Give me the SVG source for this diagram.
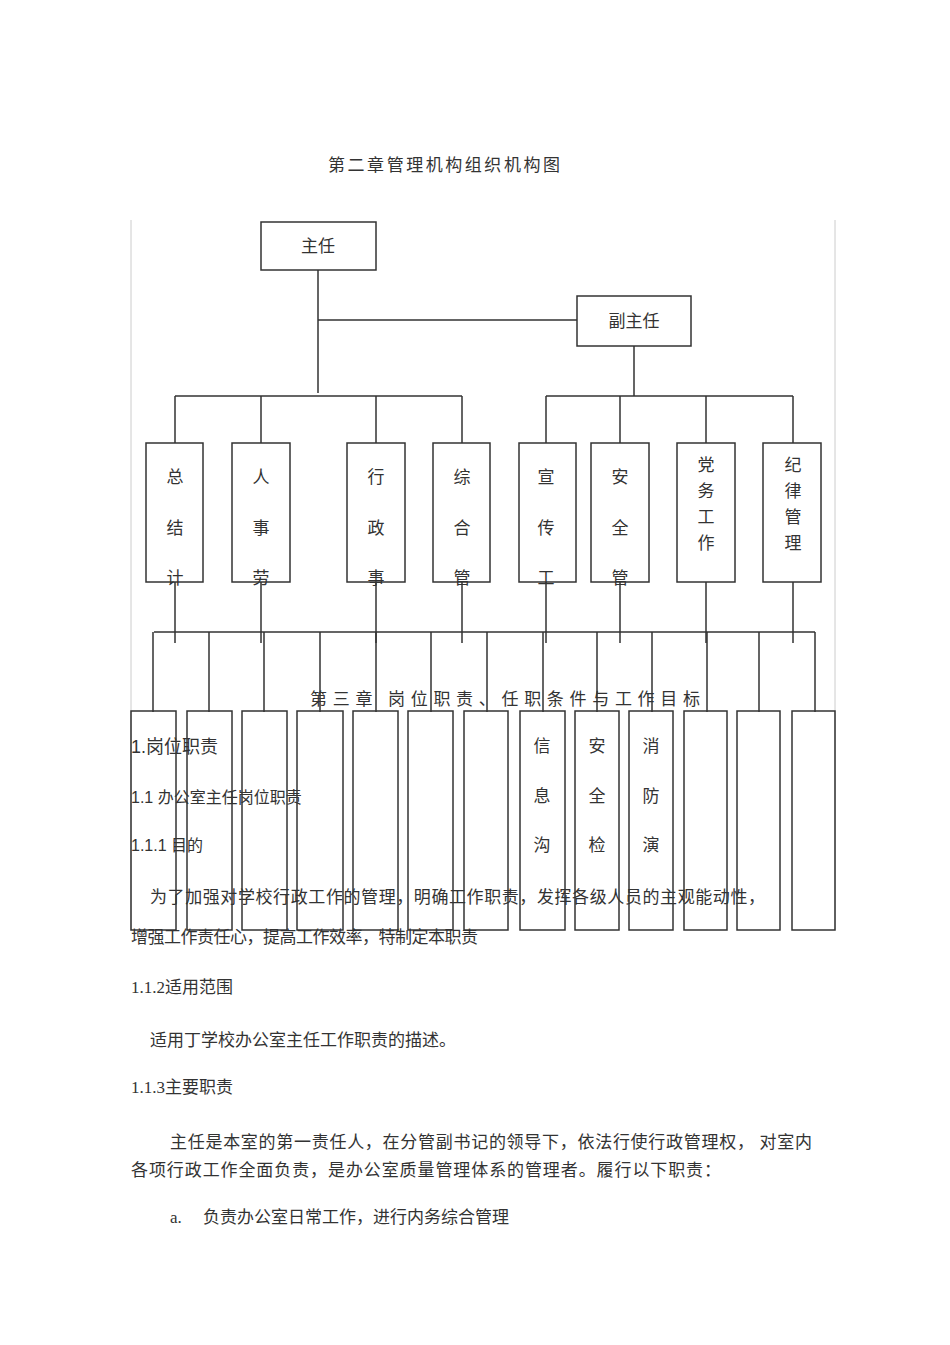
<svg xmlns="http://www.w3.org/2000/svg" width="950" height="1345" viewBox="0 0 950 1345">
<style>
.b{fill:#fff;stroke:#333;stroke-width:1.5}
.c{stroke:#333;stroke-width:1.5;fill:none}
.t{font-family:"Liberation Serif","Noto Sans CJK SC",serif;fill:#333;font-size:17px}
.m{text-anchor:middle}
.s{font-family:"Liberation Sans","Noto Sans CJK SC",sans-serif;fill:#333}
</style>
<rect width="950" height="1345" fill="#fff"/>
<text class="t" x="328" y="171" font-size="19" textLength="232">第二章管理机构组织机构图</text>
<g id="frame" stroke="#ccc" stroke-width="1"><line x1="131" y1="220" x2="131" y2="930"/><line x1="835" y1="220" x2="835" y2="930"/></g>
<g id="connectors" class="c">
<path d="M318 270V393M318 320H577M634 346V396M175 396H462M175 396V443M261 396V443M376 396V443M462 396V443M546 396H793M546 396V443M620 396V443M706 396V443M793 396V443"/>
<path d="M154 632H815M175 568V643M261 568V643M376 568V643M462 568V643M546 568V643M620 568V643M706 568V643M793 568V643"/>
<path d="M153 632V712M209 632V712M264 632V712M320 632V712M376 632V712M431 632V712M487 632V712M543 632V712M597 632V712M652 632V712M707 632V712M759 632V712M815 632V712"/>
</g>
<g id="n-zhuren"><rect class="b" x="261" y="222" width="115" height="48"/><text class="t m" x="318" y="252">主任</text></g>
<g id="n-fuzhuren"><rect class="b" x="577" y="296" width="114" height="50"/><text class="t m" x="634" y="327">副主任</text></g>
<g id="top-boxes">
<g id="n1"><rect class="b" x="146" y="443" width="57" height="139"/><text class="t m" x="175" y="483">总</text><text class="t m" x="175" y="534">结</text><text class="t m" x="175" y="584">计</text></g>
<g id="n2"><rect class="b" x="232" y="443" width="58" height="139"/><text class="t m" x="261" y="483">人</text><text class="t m" x="261" y="534">事</text><text class="t m" x="261" y="584">劳</text></g>
<g id="n3"><rect class="b" x="347" y="443" width="58" height="139"/><text class="t m" x="376" y="483">行</text><text class="t m" x="376" y="534">政</text><text class="t m" x="376" y="584">事</text></g>
<g id="n4"><rect class="b" x="433" y="443" width="57" height="139"/><text class="t m" x="462" y="483">综</text><text class="t m" x="462" y="534">合</text><text class="t m" x="462" y="584">管</text></g>
<g id="n5"><rect class="b" x="519" y="443" width="57" height="139"/><text class="t m" x="546" y="483">宣</text><text class="t m" x="546" y="534">传</text><text class="t m" x="546" y="584">工</text></g>
<g id="n6"><rect class="b" x="591" y="443" width="58" height="139"/><text class="t m" x="620" y="483">安</text><text class="t m" x="620" y="534">全</text><text class="t m" x="620" y="584">管</text></g>
<g id="n7"><rect class="b" x="677" y="443" width="58" height="139"/><text class="t m" x="706" y="471">党</text><text class="t m" x="706" y="497">务</text><text class="t m" x="706" y="523">工</text><text class="t m" x="706" y="549">作</text></g>
<g id="n8"><rect class="b" x="763" y="443" width="58" height="139"/><text class="t m" x="793" y="471">纪</text><text class="t m" x="793" y="497">律</text><text class="t m" x="793" y="523">管</text><text class="t m" x="793" y="549">理</text></g>
</g>
<g id="bottom-boxes" fill="none" stroke="#333" stroke-width="1.5">
<rect x="131" y="711" width="45" height="219"/><rect x="187" y="711" width="45" height="219"/><rect x="242" y="711" width="45" height="219"/><rect x="297" y="711" width="46" height="219"/><rect x="353" y="711" width="45" height="219"/><rect x="408" y="711" width="45" height="219"/><rect x="464" y="711" width="44" height="219"/><rect x="520" y="711" width="45" height="219"/><rect x="575" y="711" width="44" height="219"/><rect x="629" y="711" width="44" height="219"/><rect x="684" y="711" width="43" height="219"/><rect x="737" y="711" width="43" height="219"/><rect x="792" y="711" width="43" height="219"/>
</g>
<g id="bottom-labels">
<text class="t m" x="542" y="752">信</text><text class="t m" x="542" y="802">息</text><text class="t m" x="542" y="851">沟</text>
<text class="t m" x="597" y="752">安</text><text class="t m" x="597" y="802">全</text><text class="t m" x="597" y="851">检</text>
<text class="t m" x="651" y="752">消</text><text class="t m" x="651" y="802">防</text><text class="t m" x="651" y="851">演</text>
</g>
<g id="page-text">
<text class="t" x="310" y="705" font-size="22" textLength="390">第三章   岗位职责、任职条件与工作目标</text>
<text class="s" x="131" y="753" font-size="18">1.岗位职责</text>
<text class="s" x="131" y="803" font-size="16">1.1 办公室主任岗位职责</text>
<text class="s" x="131" y="851" font-size="16">1.1.1 目的</text>
<text class="t" x="150" y="903" font-size="17" textLength="615">为了加强对学校行政工作的管理，明确工作职责，发挥各级人员的主观能动性，</text>
<text class="t" x="131" y="943" font-size="16" textLength="347">增强工作责任心，提高工作效率，特制定本职责</text>
<text class="t" x="131" y="993" font-size="16">1.1.2适用范围</text>
<text class="t" x="150" y="1046" font-size="16">适用丁学校办公室主任工作职责的描述。</text>
<text class="t" x="131" y="1093" font-size="16">1.1.3主要职责</text>
<text class="t" x="170" y="1148" font-size="16" textLength="642">主任是本室的第一责任人，在分管副书记的领导下，依法行使行政管理权， 对室内</text>
<text class="t" x="131" y="1176" font-size="16" textLength="590">各项行政工作全面负责，是办公室质量管理体系的管理者。履行以下职责：</text>
<text class="t" x="170" y="1223" font-size="16">a.</text>
<text class="t" x="203" y="1223" font-size="16">负责办公室日常工作，进行内务综合管理</text>
</g>
</svg>
